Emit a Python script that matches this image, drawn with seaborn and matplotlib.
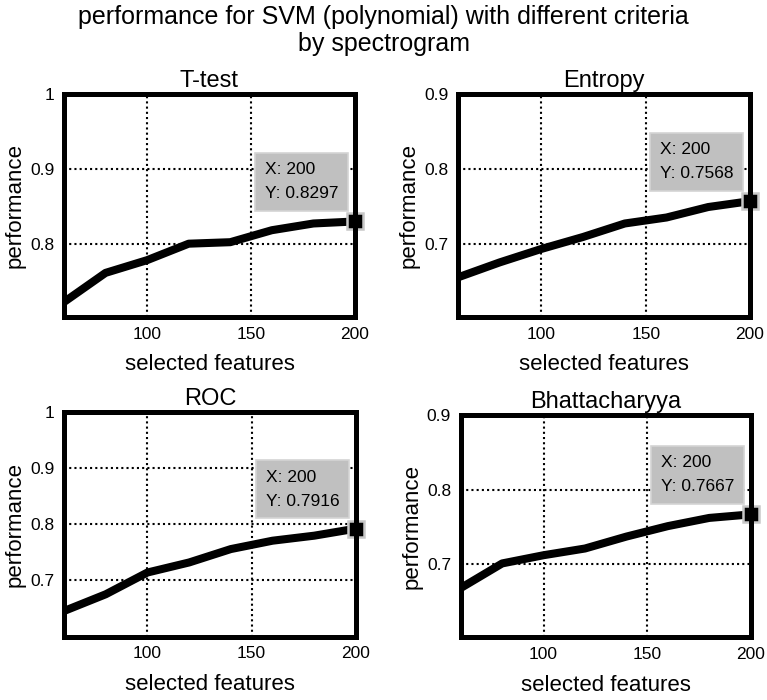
import pandas as pd
import matplotlib
matplotlib.use("Agg")
import matplotlib.pyplot as plt
import seaborn as sns

# selected feature counts (same for all four criteria)
features = [60, 80, 100, 120, 140, 160, 180, 200]

ttest = [0.722, 0.761, 0.778, 0.800, 0.802, 0.818, 0.827, 0.8297]
entropy = [0.655, 0.675, 0.693, 0.709, 0.727, 0.735, 0.749, 0.7568]
roc = [0.644, 0.674, 0.713, 0.731, 0.755, 0.770, 0.779, 0.7916]
bhatta = [0.668, 0.701, 0.712, 0.721, 0.737, 0.751, 0.762, 0.7667]

titles = ["T-test", "Entropy", "ROC", "Bhattacharyya"]
series = [ttest, entropy, roc, bhatta]
ylims = [(0.702, 1.0), (0.602, 0.9), (0.598, 1.0), (0.602, 0.9)]
yticks = [[0.8, 0.9, 1.0], [0.7, 0.8, 0.9], [0.7, 0.8, 0.9, 1.0], [0.7, 0.8, 0.9]]
ytick_labels = [["0.8", "0.9", "1"], ["0.7", "0.8", "0.9"],
                ["0.7", "0.8", "0.9", "1"], ["0.7", "0.8", "0.9"]]
xticks = [100, 150, 200]

sns.set_style("white")
plt.rcParams["font.family"] = ["Liberation Sans", "DejaVu Sans"]
plt.rcParams["text.color"] = "black"
plt.rcParams["axes.labelcolor"] = "black"
plt.rcParams["xtick.color"] = "black"
plt.rcParams["ytick.color"] = "black"

fig = plt.figure(figsize=(7.67, 7.0), dpi=100)
positions = [
    [0.0834, 0.5471, 0.3794, 0.3186],
    [0.5971, 0.5471, 0.3807, 0.3186],
    [0.0834, 0.0904, 0.3807, 0.3206],
    [0.6007, 0.0896, 0.3781, 0.3176],
]

for pos, title, vals, ylim, yt, ytl in zip(positions, titles, series, ylims, yticks, ytick_labels):
    ax = fig.add_axes(pos)
    df = pd.DataFrame({"features": features, "performance": vals})
    sns.lineplot(data=df, x="features", y="performance", ax=ax,
                 color="black", lw=5.8, solid_capstyle="butt", zorder=3)
    ax.plot(features[-1], vals[-1], marker="s", ms=11, mfc="black",
            mec="#c8c8c8", mew=1.8, clip_on=False, zorder=5)
    ax.annotate("X: %d\nY: %.4f" % (features[-1], vals[-1]),
                xy=(features[-1], vals[-1]), xytext=(-90, 20),
                textcoords="offset pixels", ha="left", va="bottom",
                fontsize=12.5, linespacing=1.75, zorder=4, color="black",
                bbox=dict(boxstyle="square,pad=0.55", fc="#c0c0c0",
                          ec="#d4d4d4", lw=1.2))
    ax.set_xlim(60, 200)
    ax.set_ylim(*ylim)
    ax.set_xticks(xticks)
    ax.set_xticklabels([str(t) for t in xticks])
    ax.set_yticks(yt)
    ax.set_yticklabels(ytl)
    ax.tick_params(length=0, labelsize=12.5, pad=7)
    ax.grid(True, color="black", lw=1.5, linestyle=(0, (1, 1.5)), zorder=1)
    ax.set_axisbelow(True)
    for sp in ax.spines.values():
        sp.set_linewidth(3.6)
        sp.set_color("black")
        sp.set_zorder(6)
    ax.set_title(title, fontsize=17, pad=5)
    ax.set_xlabel("selected features", fontsize=16, labelpad=9)
    ax.set_ylabel("performance", fontsize=16, labelpad=3)

fig.suptitle("performance for SVM (polynomial) with different criteria\nby spectrogram",
             fontsize=18, y=0.993, linespacing=1.15)

fig.savefig("out.png", dpi=100)
